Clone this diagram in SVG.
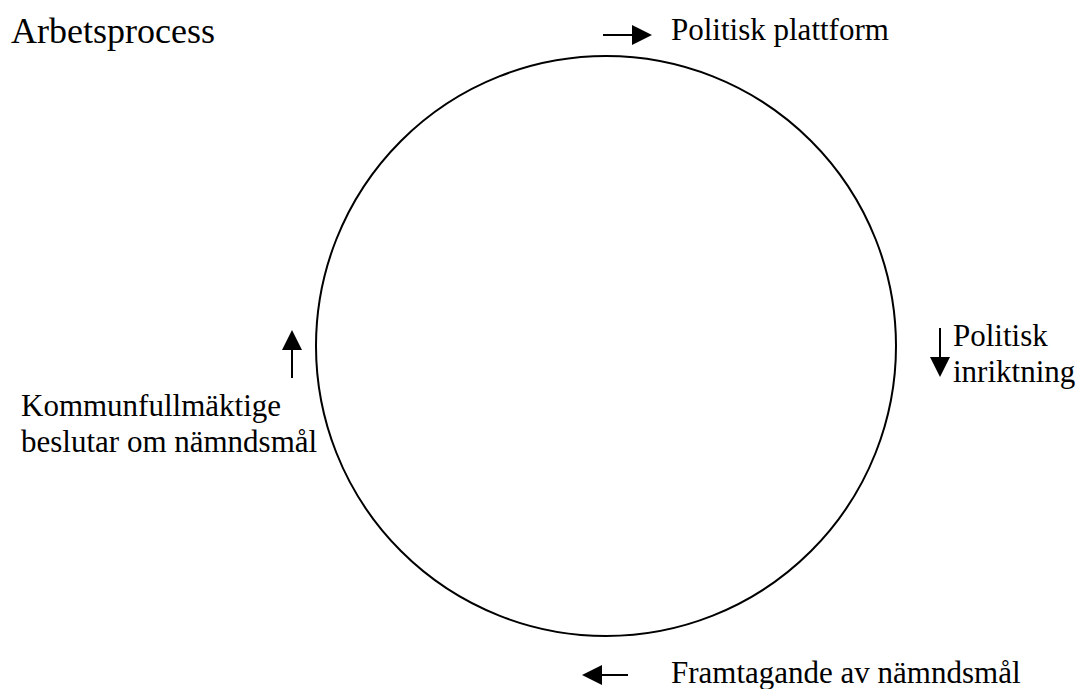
<svg xmlns="http://www.w3.org/2000/svg" width="1078" height="689" viewBox="0 0 1078 689">
<style>
text{font-family:"Liberation Serif","Times New Roman",serif;fill:#000;font-size:31px}
.title{font-size:36px}
.ln{stroke:#000;stroke-width:2;fill:none}
</style>
<rect width="1078" height="689" fill="#fff"/>
<text class="title" x="11" y="43">Arbetsprocess</text>
<g id="cycle"><circle cx="606" cy="346" r="290" fill="none" stroke="#000" stroke-width="2"/></g>
<g id="connectors">
<line class="ln" x1="603" y1="35" x2="636" y2="35"/>
<path d="M632,25 L652,35 L632,45 z"/>
<line class="ln" x1="940" y1="328" x2="940" y2="360"/>
<path d="M930,357 L940,377 L950,357 z"/>
<line class="ln" x1="292" y1="378" x2="292" y2="346"/>
<path d="M282,350 L292,330 L302,350 z"/>
<line class="ln" x1="628" y1="675" x2="598" y2="675"/>
<path d="M602,665 L582,675 L602,685 z"/>
</g>
<g id="n1"><text x="671" y="40">Politisk plattform</text></g>
<g id="n2"><text x="953" y="346">Politisk</text><text x="953" y="382">inriktning</text></g>
<g id="n3"><text x="671" y="683">Framtagande av nämndsmål</text></g>
<g id="n4"><text x="21" y="416">Kommunfullmäktige</text><text x="21" y="452">beslutar om nämndsmål</text></g>
</svg>
